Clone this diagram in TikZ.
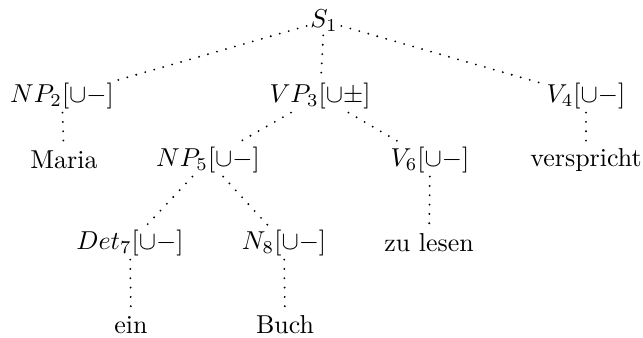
\documentclass[tikz,border=0pt]{standalone}
\begin{document}
\begin{tikzpicture}[x=0.386pt,y=-0.386pt,
  tn/.style={inner sep=1.2pt},
  edge/.style={line width=0.8pt,line cap=round,dash pattern=on 0pt off 3.6pt}]
\useasboundingbox (0,0) rectangle (643,337);
\node[tn] (s1) at (324,21) {$S_1$};
\node[tn] (np2) at (62,96) {$NP_2[\cup-]$};
\node[tn] (vp3) at (320,96) {$VP_3[\cup\pm]$};
\node[tn] (v4) at (586,96) {$V_4[\cup-]$};
\node[tn] (maria) at (64,160) {Maria};
\node[tn] (np5) at (208,160) {$NP_5[\cup-]$};
\node[tn] (v6) at (430,160) {$V_6[\cup-]$};
\node[tn] (versp) at (586,160) {verspricht};
\node[tn] (det7) at (130,243) {$Det_7[\cup-]$};
\node[tn] (n8) at (284,243) {$N_8[\cup-]$};
\node[tn] (zul) at (429,243) {zu lesen};
\node[tn] (ein) at (131,325) {ein};
\node[tn] (buch) at (285,325) {Buch};
\draw[edge] (s1) -- (np2);
\draw[edge] (s1) -- (vp3);
\draw[edge] (s1) -- (v4);
\draw[edge] (np2) -- (maria);
\draw[edge] (vp3) -- (np5);
\draw[edge] (vp3) -- (v6);
\draw[edge] (v4) -- (versp);
\draw[edge] (np5) -- (det7);
\draw[edge] (np5) -- (n8);
\draw[edge] (v6) -- (zul);
\draw[edge] (det7) -- (ein);
\draw[edge] (n8) -- (buch);
\end{tikzpicture}
\end{document}
